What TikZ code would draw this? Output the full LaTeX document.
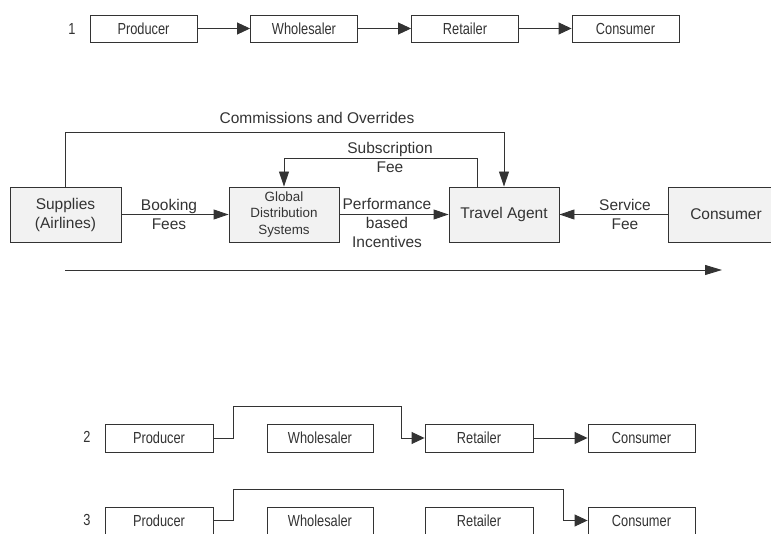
\documentclass[tikz,border=0pt]{standalone}
\usepackage{fontspec}
\setmainfont{Liberation Sans}
\newfontfamily\condfont[FakeStretch=0.8]{Liberation Sans}
\usetikzlibrary{arrows.meta}
\definecolor{ink}{HTML}{333333}
\definecolor{boxfill}{HTML}{F2F2F2}
\tikzset{
  rowbox/.style={draw=ink, line width=0.9pt, fill=white, minimum width=107pt, minimum height=27pt, inner sep=0pt, font=\condfont\fontsize{16}{18}\selectfont, text=ink},
  bigbox/.style={draw=ink, line width=0.9pt, fill=boxfill, minimum width=110pt, minimum height=55pt, inner sep=0pt, font=\fontsize{15.5}{19}\selectfont, text=ink, align=center},
  lbl/.style={font=\fontsize{15.5}{19}\selectfont, text=ink, align=center, inner sep=0pt},
  rownum/.style={font=\condfont\fontsize{16}{18}\selectfont, text=ink, inner sep=0pt},
  conn/.style={draw=ink, line width=0.9pt},
  rarr/.style={conn, -{Triangle[length=13pt,width=12pt]}},
  marr/.style={conn, -{Triangle[length=15pt,width=10pt]}},
}
\begin{document}
\begin{tikzpicture}[x=1pt,y=-1pt]
\useasboundingbox (0,0) rectangle (771,534);
% Row 1
\node[rownum] (n1) at (72,29) {1};
\node[rowbox] (p1) at (143.5,28.5) {Producer};
\node[rowbox] (w1) at (304,28.5) {Wholesaler};
\node[rowbox] (r1) at (465,28.5) {Retailer};
\node[rowbox] (c1) at (625.5,28.5) {Consumer};
\draw[rarr] (p1.east) -- (w1.west);
\draw[rarr] (w1.east) -- (r1.west);
\draw[rarr] (r1.east) -- (c1.west);

% Middle
\node[bigbox, minimum width=111pt] (sup) at (65.5,214.5) {Supplies\\(Airlines)};
\node[bigbox, font=\fontsize{13.4}{16.5}\selectfont] (gds) at (284,214.5) {Global\\Distribution\\Systems};
\node[bigbox] (ta) at (504,214.5) {Travel Agent};
\node[bigbox, minimum width=116pt] (con) at (726,214.5) {Consumer};

\coordinate (k1) at (504,132);
\draw[marr] (sup.north) |- (k1) -- (ta.north);
\node[lbl] (lcom) at (317,118) {Commissions and Overrides};

\coordinate (k2) at (284,158);
\draw[marr] ([xshift=-27pt]ta.north) |- (k2) -- (gds.north);
\node[lbl] (lsub) at (390,157.5) {Subscription\\Fee};

\draw[marr] (sup.east) -- (gds.west);
\node[lbl] (lbook) at (169,214.5) {Booking\\Fees};

\draw[marr] (gds.east) -- (ta.west);
\node[lbl] (lperf) at (387,223) {Performance\\based\\Incentives};

\draw[marr] (con.west) -- (ta.east);
\node[lbl] (lserv) at (625,214.5) {Service\\Fee};

\coordinate (t0) at (65,270);
\coordinate (t1) at (722,270);
\draw[conn, -{Triangle[length=17pt,width=10pt]}] (t0) -- (t1);

% Row 2
\node[rownum] (n2) at (87,437) {2};
\node[rowbox, minimum width=108pt, minimum height=28pt] (p2) at (159,438) {Producer};
\node[rowbox, minimum width=106pt, minimum height=28pt] (w2) at (320,438) {Wholesaler};
\node[rowbox, minimum width=108pt, minimum height=28pt] (r2) at (479,438) {Retailer};
\node[rowbox, minimum height=28pt] (c2) at (641.5,438) {Consumer};
\coordinate (a2) at (233,406);
\coordinate (b2) at (401,438);
\draw[rarr] (p2.east) -| (a2) -| (b2) -- (r2.west);
\draw[rarr] (r2.east) -- (c2.west);

% Row 3
\node[rownum] (n3) at (87,520) {3};
\node[rowbox, minimum width=108pt] (p3) at (159,520.5) {Producer};
\node[rowbox, minimum width=106pt] (w3) at (320,520.5) {Wholesaler};
\node[rowbox, minimum width=108pt] (r3) at (479,520.5) {Retailer};
\node[rowbox] (c3) at (641.5,520.5) {Consumer};
\coordinate (a3) at (233,489);
\coordinate (b3) at (563,520.5);
\draw[rarr] (p3.east) -| (a3) -| (b3) -- (c3.west);
\end{tikzpicture}
\end{document}
